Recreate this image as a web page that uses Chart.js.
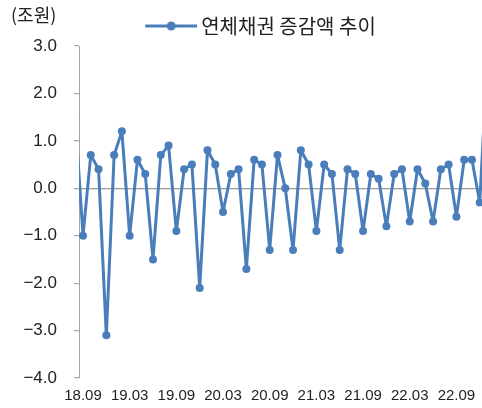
<!DOCTYPE html>
<html>
<head>
<meta charset="utf-8">
<script src="https://cdn.jsdelivr.net/npm/chart.js@4.4.0/dist/chart.umd.min.js"></script>
<style>
  html, body { margin: 0; padding: 0; background: #fff; }
  #wrap { width: 482px; height: 408px; }
</style>
</head>
<body>
<div id="wrap"><canvas id="myChart" width="482" height="408"></canvas></div>
<script>
// monthly series, 18.08 and 23.01 sit just outside the visible plot edges
const months = [
  '18.08', '18.09', '18.10', '18.11', '18.12',
  '19.01', '19.02', '19.03', '19.04', '19.05', '19.06', '19.07', '19.08', '19.09', '19.10', '19.11', '19.12',
  '20.01', '20.02', '20.03', '20.04', '20.05', '20.06', '20.07', '20.08', '20.09', '20.10', '20.11', '20.12',
  '21.01', '21.02', '21.03', '21.04', '21.05', '21.06', '21.07', '21.08', '21.09', '21.10', '21.11', '21.12',
  '22.01', '22.02', '22.03', '22.04', '22.05', '22.06', '22.07', '22.08', '22.09', '22.10', '22.11', '22.12',
  '23.01'
];
const values = [
  1.5, -1.0, 0.7, 0.4, -3.1,
  0.7, 1.2, -1.0, 0.6, 0.3, -1.5, 0.7, 0.9, -0.9, 0.4, 0.5, -2.1,
  0.8, 0.5, -0.5, 0.3, 0.4, -1.7, 0.6, 0.5, -1.3, 0.7, 0.0, -1.3,
  0.8, 0.5, -0.9, 0.5, 0.3, -1.3, 0.4, 0.3, -0.9, 0.3, 0.2, -0.8,
  0.3, 0.4, -0.7, 0.4, 0.1, -0.7, 0.4, 0.5, -0.6, 0.6, 0.6, -0.3,
  2.8
];
const tickLabels = ['18.09', '19.03', '19.09', '20.03', '20.09', '21.03', '21.09', '22.03', '22.09'];
const seriesName = '연체채권 증감액 추이';
const unitLabel = '(조원)';

const blue = '#4a7ebb';
const axisGray = '#a6a6a6';

// legend marker: line with a dot, padded on the left so the item lines up
const marker = document.createElement('canvas');
marker.width = 97;
marker.height = 12;
(() => {
  const m = marker.getContext('2d');
  m.strokeStyle = blue;
  m.lineWidth = 3;
  m.beginPath();
  m.moveTo(45, 6);
  m.lineTo(97, 6);
  m.stroke();
  m.fillStyle = blue;
  m.beginPath();
  m.arc(71, 6, 4.5, 0, Math.PI * 2);
  m.fill();
})();

// unit text in the top-left corner
const unitPlugin = {
  id: 'unitLabel',
  afterDraw(chart) {
    const ctx = chart.ctx;
    ctx.save();
    ctx.font = '18px "Noto Sans CJK KR"';
    ctx.fillStyle = '#222';
    ctx.textAlign = 'left';
    ctx.textBaseline = 'middle';
    ctx.fillText(unitLabel, 11, 15);
    ctx.restore();
  }
};

const ctx = document.getElementById('myChart').getContext('2d');
new Chart(ctx, {
  type: 'line',
  data: {
    datasets: [{
      label: seriesName,
      data: values.map((v, i) => ({ x: i, y: v })),
      borderColor: blue,
      backgroundColor: blue,
      borderWidth: 3,
      borderJoinStyle: 'round',
      pointRadius: 4,
      pointBorderWidth: 0,
      pointBackgroundColor: blue,
      tension: 0,
      clip: { left: 0, right: 6, top: 6, bottom: 6 }
    }]
  },
  options: {
    responsive: false,
    animation: false,
    events: [],
    layout: { autoPadding: false, padding: { top: 6, left: 0, right: 0, bottom: 0 } },
    plugins: {
      tooltip: { enabled: false },
      legend: {
        display: true,
        position: 'top',
        labels: {
          usePointStyle: true,
          pointStyleWidth: 85,
          padding: 10,
          color: '#222',
          font: { family: '"Noto Sans CJK KR"', size: 20 },
          generateLabels(chart) {
            const items = Chart.defaults.plugins.legend.labels.generateLabels(chart);
            items.forEach(it => { it.pointStyle = marker; });
            return items;
          }
        }
      }
    },
    scales: {
      x: {
        type: 'linear',
        min: 0.486,
        max: 52.29,
        afterFit(scale) { scale.height = 30; },
        afterBuildTicks(scale) {
          scale.ticks = tickLabels.map(l => ({ value: months.indexOf(l) }));
        },
        // invisible grid; only its tick length is used to push the labels down
        grid: { display: true, drawOnChartArea: false, drawTicks: true, tickLength: 9, color: 'rgba(0,0,0,0)' },
        border: { display: false },
        ticks: {
          autoSkip: false,
          maxRotation: 0,
          padding: 0,
          color: '#222',
          font: { family: '"Liberation Sans"', size: 15 },
          callback: (value) => months[value]
        }
      },
      y: {
        min: -4,
        max: 3,
        afterFit(scale) { scale.width = 79; },
        border: { display: true, color: axisGray, width: 1 },
        grid: {
          drawTicks: true,
          tickLength: 5,
          tickColor: axisGray,
          lineWidth: 1.2,
          color: (c) => (c.tick && c.tick.value === 0 ? '#999' : 'rgba(0,0,0,0)')
        },
        ticks: {
          stepSize: 1,
          padding: 17,
          color: '#222',
          font: { family: '"Liberation Sans"', size: 17 },
          callback: (v) => (v < 0 ? '\u2212' + Math.abs(v).toFixed(1) : v.toFixed(1))
        }
      }
    }
  },
  plugins: [unitPlugin]
});
</script>
</body>
</html>
